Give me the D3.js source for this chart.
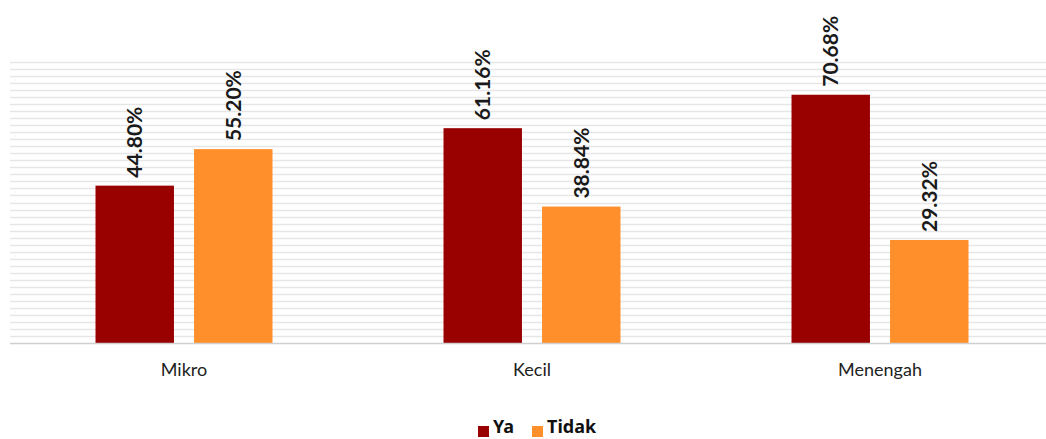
<!DOCTYPE html>
<html>
<head>
<meta charset="utf-8">
<script src="https://cdn.jsdelivr.net/npm/d3@7"></script>
<style>
  html, body { margin: 0; padding: 0; background: #fff; }
  svg { display: block; }
</style>
</head>
<body>
<svg id="chart" width="1046" height="439"></svg>
<script>
// Business size categories and share of answers per series (percent)
const categories = ["Mikro", "Kecil", "Menengah"];
const seriesNames = ["Ya", "Tidak"];
const ya = [44.80, 61.16, 70.68];
const tidak = [55.20, 38.84, 29.32];
const yTicks = d3.range(0, 81, 2);

const colors = { "Ya": "#990000", "Tidak": "#FF8F2B" };
const values = { "Ya": ya, "Tidak": tidak };

const svg = d3.select("#chart");
const plot = { left: 10, right: 1054, top: 62, bottom: 343 };

const y = d3.scaleLinear().domain([0, 80]).range([plot.bottom, plot.top]);

const x0 = d3.scaleBand()
  .domain(categories)
  .range([plot.left, plot.right])
  .paddingInner(0.4914)
  .paddingOuter(0.2457);

const x1 = d3.scaleBand()
  .domain(seriesNames)
  .range([0, x0.bandwidth()])
  .paddingInner(0.204)
  .paddingOuter(0);

const font = "Lato, 'Noto Sans', sans-serif";

// horizontal gridlines
svg.append("g")
  .selectAll("line")
  .data(yTicks.filter(t => t > 0))
  .join("line")
  .attr("x1", plot.left)
  .attr("x2", 1046)
  .attr("y1", d => Math.round(y(d)) + 0.5)
  .attr("y2", d => Math.round(y(d)) + 0.5)
  .attr("stroke", "#e6e6e6")
  .attr("stroke-width", 1.6);

// bars
const groups = svg.append("g")
  .selectAll("g")
  .data(categories)
  .join("g")
  .attr("transform", d => `translate(${x0(d)},0)`);

groups.selectAll("rect")
  .data((c, i) => seriesNames.map(s => ({ s, v: values[s][i] })))
  .join("rect")
  .attr("x", d => x1(d.s))
  .attr("width", x1.bandwidth())
  .attr("y", d => y(d.v))
  .attr("height", d => y(0) - y(d.v))
  .attr("fill", d => colors[d.s]);

// value labels, rotated to read upward
groups.selectAll("text")
  .data((c, i) => seriesNames.map(s => ({ s, v: values[s][i] })))
  .join("text")
  .attr("transform", d => `translate(${x1(d.s) + x1.bandwidth() / 2 + 7.5},${y(d.v) - 8}) rotate(-90)`)
  .attr("text-anchor", "start")
  .attr("font-family", font)
  .attr("font-weight", "bold")
  .attr("font-size", 21)
  .attr("fill", "#1a1a1a")
  .text(d => d.v.toFixed(2) + "%");

// baseline / category axis
const xAxis = d3.axisBottom(x0).tickSize(0).tickPadding(20);
const axisG = svg.append("g")
  .attr("transform", `translate(0,${plot.bottom})`)
  .call(xAxis);
axisG.select(".domain")
  .attr("d", `M${plot.left},0.5H1046`)
  .attr("stroke", "#d0d0d0")
  .attr("stroke-width", 1.5);
axisG.selectAll("text")
  .attr("font-family", font)
  .attr("font-size", 18)
  .attr("fill", "#222");

// legend
const legend = svg.append("g").attr("transform", "translate(478,433)");
const legendX = [0, 54];
const items = legend.selectAll("g")
  .data(seriesNames)
  .join("g")
  .attr("transform", (d, i) => `translate(${legendX[i]},0)`);
items.append("rect")
  .attr("x", 0).attr("y", -7)
  .attr("width", 11).attr("height", 11)
  .attr("fill", d => colors[d]);
items.append("text")
  .attr("x", 15)
  .attr("y", 0)
  .attr("font-family", "'Noto Sans', Lato, sans-serif")
  .attr("font-weight", "bold")
  .attr("font-size", 18)
  .attr("fill", "#111")
  .text(d => d);
</script>
</body>
</html>
